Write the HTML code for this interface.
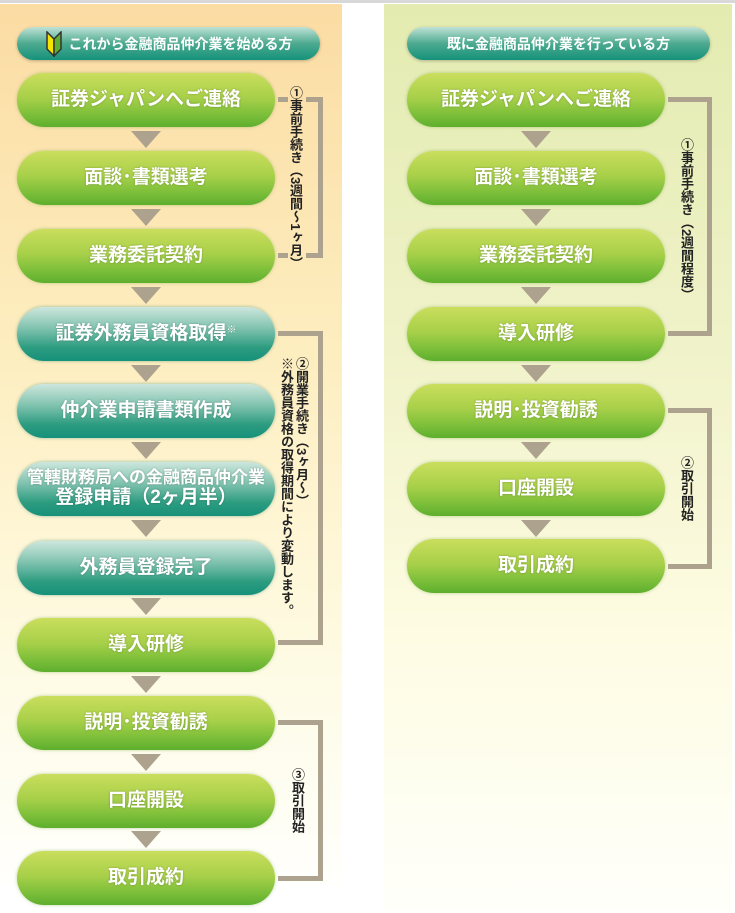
<!DOCTYPE html>
<html><head><meta charset="utf-8"><style>
*{margin:0;padding:0;box-sizing:border-box}
body{width:735px;height:913px;background:#fff;position:relative;overflow:hidden;font-family:"Liberation Sans","Noto Sans CJK JP",sans-serif}
.topline{position:absolute;left:0;top:0;width:735px;height:3px;background:#d8d8d8}
.lp{position:absolute;left:0;top:4px;width:342px;height:880px;background:linear-gradient(#fbdca3 0%,#fdeec0 40%,#fefbe4 75%,#fffffc 100%)}
.rp{position:absolute;left:384px;top:4px;width:348px;height:909px;background:linear-gradient(#e3ebb0 0%,#f1f3cb 40%,#fefce3 70%,#fffffb 100%)}
.pill{position:absolute;height:54px;border-radius:27px;color:#fff;font-weight:bold;font-size:19px;display:flex;align-items:center;justify-content:center;text-align:center;line-height:1.1;text-shadow:0 0 2px rgba(0,0,0,.25)}
.g{background:linear-gradient(#c9de5c 0%,#a9d04a 45%,#78bd38 80%,#5eae2e 100%);box-shadow:0 0 3px rgba(120,170,60,.5)}
.t{background:linear-gradient(#cde7dd 0%,#7fc2ae 40%,#2d9c80 75%,#16917a 100%);box-shadow:0 0 3px rgba(40,130,110,.5)}
.hd{position:absolute;top:27px;height:33px;width:303px;border-radius:17px;background:linear-gradient(#bfe2d6 0%,#4daa90 50%,#14927a 100%);color:#fff;font-weight:bold;font-size:14px;display:flex;align-items:center;justify-content:center;box-shadow:0 1px 3px rgba(0,0,0,.25)}
.ar{position:absolute;width:0;height:0;border-left:15px solid transparent;border-right:15px solid transparent;border-top:17px solid #aca28d}
.bh{position:absolute;height:5px;background:#aca28d}
.bv{position:absolute;width:5px;background:#aca28d}
.vt{position:absolute;writing-mode:vertical-rl;font-size:13px;font-weight:bold;color:#222;line-height:1;letter-spacing:0}
</style></head><body>
<div class="topline"></div>
<div class="lp"></div>
<div class="rp"></div>

<div class="hd" style="left:17px"><svg width="18" height="26" viewBox="0 0 18 26" style="margin-right:6px"><path d="M9 8 L2 1 L2 18 L9 25 Z" fill="#f5e600" stroke="#333" stroke-width="1.5"/><path d="M9 8 L16 1 L16 18 L9 25 Z" fill="#5cb030" stroke="#333" stroke-width="1.5"/></svg>これから金融商品仲介業を始める方</div>
<div class="hd" style="left:407px">既に金融商品仲介業を行っている方</div>

<div class="pill g" style="left:17px;top:73px;width:258px">証券ジャパンへご連絡</div>
<div class="pill g" style="left:17px;top:151px;width:258px">面談･書類選考</div>
<div class="pill g" style="left:17px;top:229px;width:258px">業務委託契約</div>
<div class="pill t" style="left:17px;top:307px;width:258px">証券外務員資格取得<sup style="font-size:10px;margin-top:-8px">※</sup></div>
<div class="pill t" style="left:17px;top:384px;width:258px">仲介業申請書類作成</div>
<div class="pill t" style="left:17px;top:462px;width:258px"><div><div style="font-size:17px;white-space:nowrap">管轄財務局への金融商品仲介業</div><div style="font-size:19px;white-space:nowrap">登録申請（2ヶ月半）</div></div></div>
<div class="pill t" style="left:17px;top:541px;width:258px">外務員登録完了</div>
<div class="pill g" style="left:17px;top:618px;width:258px">導入研修</div>
<div class="pill g" style="left:17px;top:696px;width:258px">説明･投資勧誘</div>
<div class="pill g" style="left:17px;top:774px;width:258px">口座開設</div>
<div class="pill g" style="left:17px;top:851px;width:258px">取引成約</div>

<div class="ar" style="left:131px;top:131px"></div>
<div class="ar" style="left:131px;top:209px"></div>
<div class="ar" style="left:131px;top:287px"></div>
<div class="ar" style="left:131px;top:365px"></div>
<div class="ar" style="left:131px;top:442px"></div>
<div class="ar" style="left:131px;top:520px"></div>
<div class="ar" style="left:131px;top:598px"></div>
<div class="ar" style="left:131px;top:676px"></div>
<div class="ar" style="left:131px;top:754px"></div>
<div class="ar" style="left:131px;top:831px"></div>

<div class="pill g" style="left:407px;top:73px;width:258px">証券ジャパンへご連絡</div>
<div class="pill g" style="left:407px;top:151px;width:258px">面談･書類選考</div>
<div class="pill g" style="left:407px;top:229px;width:258px">業務委託契約</div>
<div class="pill g" style="left:407px;top:307px;width:258px">導入研修</div>
<div class="pill g" style="left:407px;top:384px;width:258px">説明･投資勧誘</div>
<div class="pill g" style="left:407px;top:462px;width:258px">口座開設</div>
<div class="pill g" style="left:407px;top:539px;width:258px">取引成約</div>

<div class="ar" style="left:521px;top:131px"></div>
<div class="ar" style="left:521px;top:209px"></div>
<div class="ar" style="left:521px;top:287px"></div>
<div class="ar" style="left:521px;top:365px"></div>
<div class="ar" style="left:521px;top:442px"></div>
<div class="ar" style="left:521px;top:520px"></div>

<div class="bh" style="left:278px;top:97px;width:10px"></div>
<div class="bh" style="left:306px;top:97px;width:17px"></div>
<div class="bh" style="left:278px;top:253px;width:10px"></div>
<div class="bh" style="left:306px;top:253px;width:17px"></div>
<div class="bv" style="left:318px;top:97px;height:161px"></div>
<div class="vt" style="left:289px;top:86px">①事前手続き（3週間～1ヶ月）</div>

<div class="bh" style="left:278px;top:331px;width:45px"></div>
<div class="bh" style="left:278px;top:640px;width:45px"></div>
<div class="bv" style="left:318px;top:331px;height:314px"></div>
<div class="vt" style="left:295px;top:357px">②開業手続き（3ヶ月～）</div>
<div class="vt" style="left:280px;top:357px">※外務員資格の取得期間により変動します。</div>

<div class="bh" style="left:278px;top:720px;width:45px"></div>
<div class="bh" style="left:278px;top:876px;width:45px"></div>
<div class="bv" style="left:318px;top:720px;height:161px"></div>
<div class="vt" style="left:291px;top:768px">③取引開始</div>

<div class="bh" style="left:668px;top:97px;width:44px"></div>
<div class="bh" style="left:668px;top:331px;width:44px"></div>
<div class="bv" style="left:707px;top:97px;height:239px"></div>
<div class="vt" style="left:680px;top:138px">①事前手続き（2週間程度）</div>

<div class="bh" style="left:668px;top:408px;width:44px"></div>
<div class="bh" style="left:668px;top:564px;width:44px"></div>
<div class="bv" style="left:707px;top:408px;height:161px"></div>
<div class="vt" style="left:680px;top:456px">②取引開始</div>
</body></html>
